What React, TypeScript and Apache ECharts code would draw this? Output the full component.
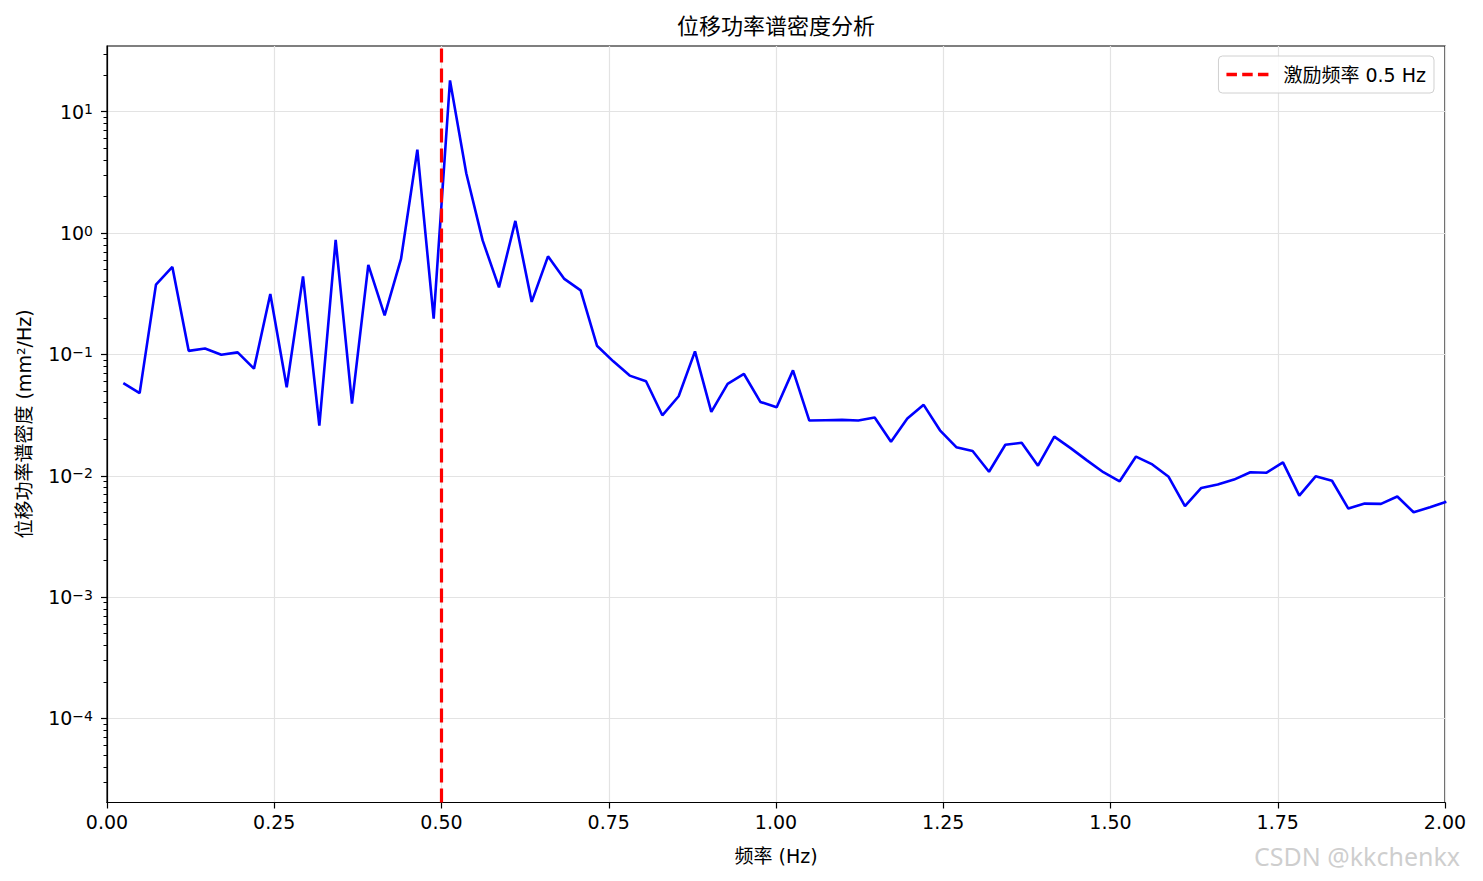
import React, { useEffect, useRef } from "react";
import * as echarts from "echarts";

// Frequency bins (Hz)
const frequencies = [
  0.0244, 0.0488, 0.0732, 0.0977, 0.1221, 0.1465, 0.1709, 0.1953, 0.2197, 0.2441,
  0.2686, 0.293, 0.3174, 0.3418, 0.3662, 0.3906, 0.415, 0.4395, 0.4639, 0.4883,
  0.5127, 0.5371, 0.5615, 0.5859, 0.6104, 0.6348, 0.6592, 0.6836, 0.708, 0.7324,
  0.7568, 0.7813, 0.8057, 0.8301, 0.8545, 0.8789, 0.9033, 0.9277, 0.9521, 0.9766,
  1.001, 1.0254, 1.0498, 1.0742, 1.0986, 1.123, 1.1475, 1.1719, 1.1963, 1.2207,
  1.2451, 1.2695, 1.2939, 1.3184, 1.3428, 1.3672, 1.3916, 1.416, 1.4404, 1.4648,
  1.4893, 1.5137, 1.5381, 1.5625, 1.5869, 1.6113, 1.6357, 1.6602, 1.6846, 1.709,
  1.7334, 1.7578, 1.7822, 1.8066, 1.8311, 1.8555, 1.8799, 1.9043, 1.9287, 1.9531,
  1.9775, 2.002,
];

// PSD values (mm²/Hz)
const psdValues = [
  0.058, 0.048, 0.376, 0.526, 0.107, 0.112, 0.0995, 0.104, 0.0764, 0.315,
  0.0536, 0.44, 0.0259, 0.877, 0.0393, 0.546, 0.21, 0.612, 4.86, 0.197,
  18.1, 3.1, 0.87, 0.357, 1.26, 0.271, 0.643, 0.419, 0.337, 0.118,
  0.0877, 0.0669, 0.0601, 0.0315, 0.0452, 0.106, 0.0336, 0.0571, 0.069, 0.0406,
  0.0367, 0.0739, 0.0285, 0.0287, 0.0289, 0.0285, 0.0302, 0.0191, 0.0296, 0.0384,
  0.0237, 0.0172, 0.016, 0.0108, 0.018, 0.0187, 0.0121, 0.021, 0.0169, 0.0134,
  0.0107, 0.009, 0.0144, 0.0124, 0.0098, 0.00561, 0.00794, 0.00846, 0.0093, 0.0107,
  0.0106, 0.0129, 0.00687, 0.0099, 0.0091, 0.00537, 0.0059, 0.00587, 0.00674, 0.005,
  0.0055, 0.0061,
];

const majorExponents = [-4, -3, -2, -1, 0, 1];
const targetFrequency = 0.5;

const titleText = "位移功率谱密度分析";
const xLabelText = "频率 (Hz)";
const yLabelText = "位移功率谱密度 (mm²/Hz)";
const legendText = "激励频率 0.5 Hz";
const watermarkText = "CSDN @kkchenkx";

// axis extents (log10 space for y)
const X_MIN = 0;
const X_MAX = 2;
const X_INTERVAL = 0.25;
const Y_MIN = -4.6925;
const Y_MAX = 1.5416;

export default function App() {
  const ref = useRef<HTMLDivElement>(null);

  useEffect(() => {
    if (!ref.current) return;
    const chart = echarts.init(ref.current, null, { renderer: "svg" });
    const font = "'DejaVu Sans', 'Noto Sans CJK SC', sans-serif";
    const fs = 19;

    const minorTicks: number[] = [];
    for (let n = -6; n <= 2; n++) {
      for (let k = 2; k <= 9; k++) {
        const v = n + Math.log10(k);
        if (v > Y_MIN && v < Y_MAX) minorTicks.push(v);
      }
    }

    const lineData = frequencies.map((f, i) => [f, Math.log10(psdValues[i])]);
    const dash = [14, 6];
    const gridColor = "#e3e3e3";

    chart.setOption({
      animation: false,
      backgroundColor: "#ffffff",
      grid: {
        left: 107,
        right: 38,
        top: 46,
        bottom: 78.5,
        show: true,
        borderColor: "#000000",
        borderWidth: 1.2,
        backgroundColor: "transparent",
        containLabel: false,
      },
      xAxis: {
        type: "value",
        min: X_MIN,
        max: X_MAX,
        interval: X_INTERVAL,
        axisLine: { show: true, onZero: false, lineStyle: { color: "#000", width: 1.2 } },
        axisTick: { show: true, length: 6, lineStyle: { color: "#000", width: 1.2 } },
        axisLabel: {
          margin: 10,
          fontSize: fs,
          fontFamily: font,
          color: "#000",
          formatter: (v: number) => v.toFixed(2),
        },
        splitLine: { show: true, lineStyle: { color: gridColor, width: 1.2 } },
      },
      yAxis: [
        {
          type: "value",
          min: Y_MIN,
          max: Y_MAX,
          axisLine: { show: true, onZero: false, lineStyle: { color: "#000", width: 1.2 } },
          axisTick: {
            show: true,
            length: 6,
            customValues: majorExponents,
            lineStyle: { color: "#000", width: 1.2 },
          },
          axisLabel: {
            show: true,
            customValues: majorExponents,
            margin: 14,
            fontFamily: font,
            color: "#000",
            formatter: (v: number) => {
              const e = Math.round(v);
              const es = e < 0 ? "\u2212" + -e : String(e);
              return "{b|10}{s|" + es + "}";
            },
            rich: {
              b: { fontSize: fs, lineHeight: 19, verticalAlign: "bottom", fontFamily: font, color: "#000" },
              s: {
                fontSize: 14,
                lineHeight: 14,
                padding: [0, 0, 10, 0],
                verticalAlign: "top",
                fontFamily: font,
                color: "#000",
              },
            },
          },
          splitLine: { show: true, lineStyle: { color: gridColor, width: 1.2 } },
        },
        {
          type: "value",
          min: Y_MIN,
          max: Y_MAX,
          position: "left",
          axisLine: { show: false, onZero: false },
          axisLabel: { show: false },
          splitLine: { show: false },
          axisTick: {
            show: true,
            length: 3.5,
            customValues: minorTicks,
            lineStyle: { color: "#000", width: 1 },
          },
        },
      ],
      legend: {
        show: true,
        data: [
          {
            name: legendText,
            icon: "path://M0,0h12v4h-12z M18,0h12v4h-12z M36,0h12v4h-12z",
            itemStyle: { color: "#ff0000", borderWidth: 0 },
          },
        ],
        right: 49,
        top: 56,
        orient: "vertical",
        itemWidth: 42,
        itemHeight: 3.5,
        symbolKeepAspect: false,
        padding: [9, 8, 9, 8],
        borderColor: "#d0d0d0",
        borderWidth: 1,
        borderRadius: 4,
        backgroundColor: "rgba(255,255,255,0.85)",
        selectedMode: false,
        textStyle: { fontSize: fs, fontFamily: font, color: "#000", padding: [0, 0, 0, 10] },
      },
      series: [
        {
          type: "line",
          name: "PSD",
          yAxisIndex: 0,
          data: lineData,
          symbol: "none",
          showSymbol: false,
          clip: true,
          z: 3,
          lineStyle: { color: "#0000ff", width: 2.6 },
          itemStyle: { color: "#0000ff" },
        },
        {
          type: "line",
          name: legendText,
          yAxisIndex: 0,
          data: [],
          symbol: "none",
          showSymbol: false,
          z: 5,
          lineStyle: { color: "#ff0000", width: 3.2, type: dash },
          itemStyle: { color: "#ff0000" },
          markLine: {
            silent: true,
            symbol: ["none", "none"],
            label: { show: false },
            z: 5,
            lineStyle: { color: "#ff0000", width: 3.2, type: dash },
            data: [{ xAxis: targetFrequency }],
          },
        },
      ],
      graphic: [
        {
          type: "text",
          x: 776,
          y: 26,
          style: {
            text: titleText,
            fontSize: 22,
            fontFamily: font,
            fill: "#000",
            align: "center",
            verticalAlign: "middle",
            textAlign: "center",
            textVerticalAlign: "middle",
          },
        },
        {
          type: "text",
          x: 776,
          y: 856,
          style: {
            text: xLabelText,
            fontSize: fs,
            fontFamily: font,
            fill: "#000",
            align: "center",
            verticalAlign: "middle",
            textAlign: "center",
            textVerticalAlign: "middle",
          },
        },
        {
          type: "text",
          x: 24,
          y: 424,
          rotation: Math.PI / 2,
          style: {
            text: yLabelText,
            fontSize: fs,
            fontFamily: font,
            fill: "#000",
            align: "center",
            verticalAlign: "middle",
            textAlign: "center",
            textVerticalAlign: "middle",
          },
        },
        {
          type: "text",
          x: 1254,
          y: 856,
          z: 100,
          style: {
            text: watermarkText,
            fontSize: 25,
            fontFamily: "'Noto Sans', sans-serif",
            fill: "rgba(190,190,190,0.75)",
            align: "left",
            verticalAlign: "middle",
            textAlign: "left",
            textVerticalAlign: "middle",
          },
        },
      ],
    });

    return () => chart.dispose();
  }, []);

  return (
    <div
      ref={ref}
      style={{ position: "fixed", left: 0, top: 0, width: 1483, height: 881 }}
    />
  );
}
